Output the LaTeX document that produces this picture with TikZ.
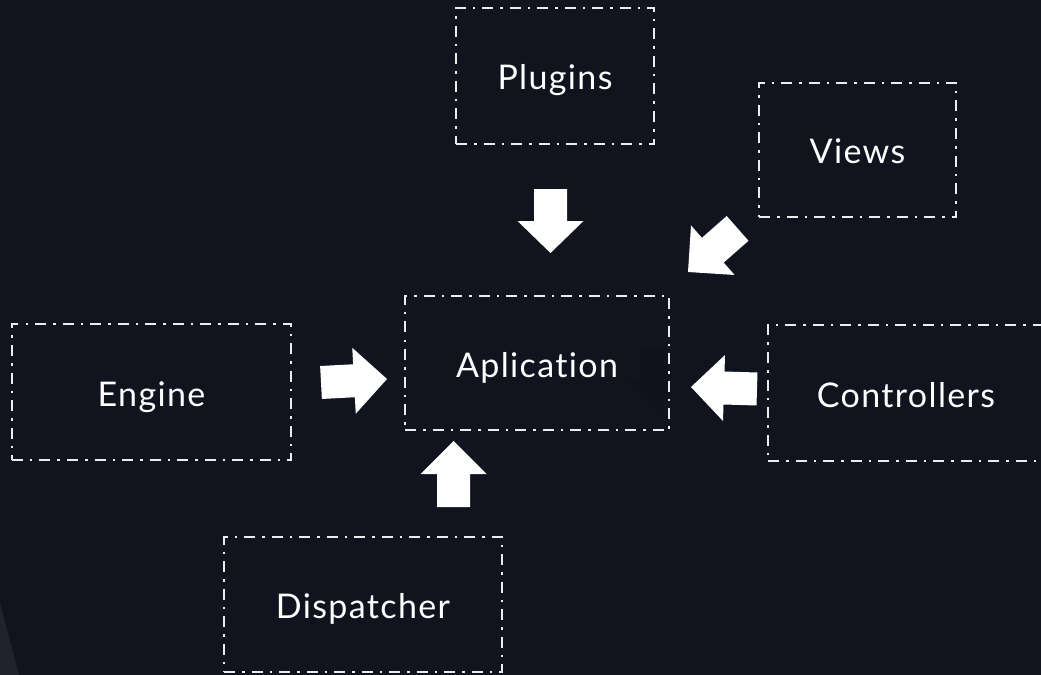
\documentclass[tikz,border=0pt]{standalone}
\usepackage{fontspec}
\setmainfont{Lato}[LetterSpace=4, Ligatures={NoCommon}]
\usetikzlibrary{calc}

\definecolor{bg}{RGB}{17,20,31}
\definecolor{bgglow}{RGB}{32,35,45}
\definecolor{bgshade}{RGB}{15,18,28}
\definecolor{edge}{RGB}{236,236,238}

% block arrow from #1 (tail) to #2 (tip); the head takes half the length
\newcommand{\blockarrow}[2]{%
  \path (#1) -- (#2) coordinate[pos=0.5] (hb);
  \fill[arrowfill] (#2)
    -- ($(hb)!33bp!90:(#2)$)
    -- ($(hb)!16.5bp!90:(#2)$)
    -- ($(#1)!16.5bp!90:(#2)$)
    -- ($(#1)!16.5bp!-90:(#2)$)
    -- ($(hb)!16.5bp!-90:(#2)$)
    -- ($(hb)!33bp!-90:(#2)$)
    -- cycle;
}

\begin{document}
\begin{tikzpicture}[x=1bp,y=-1bp,
  module/.style={draw=edge, line width=2bp,
    dash pattern=on 11bp off 7bp on 2.5bp off 7bp,
    rectangle, inner sep=0pt, text=white,
    font=\fontsize{34bp}{38bp}\selectfont,
    text height=28bp, text depth=0pt},
  arrowfill/.style={fill=white}]

\fill[bg] (0,0) rectangle (1041,675);
\useasboundingbox (0,0) rectangle (1041,675);

% soft background shapes
\fill[bgglow] (0,603) -- (19,675) -- (0,675) -- cycle;
\fill[bgshade] (641,348) -- (667,348) -- (667,398) -- (657,411)
  -- (626,379) -- (641,379) -- cycle;

\begin{scope}
\clip (0,0) rectangle (1041,675);
\node[module, minimum width=198bp, minimum height=136bp] (plugins) at (555,76) {Plugins};
\node[module, minimum width=197bp, minimum height=134bp] (views) at (857.5,150) {Views};
\node[module, minimum width=264bp, minimum height=134bp] (app) at (537,363) {Aplication};
\node[module, minimum width=279bp, minimum height=136bp] (engine) at (151.5,392) {Engine};
\node[module, minimum width=276bp, minimum height=136bp] (controllers) at (906,393) {Controllers};
\node[module, minimum width=278bp, minimum height=135bp] (dispatcher) at (363,604.5) {Dispatcher};
\end{scope}

% arrow ends in the gaps between the modules
\coordinate (pluginsTail) at (550.5,189);
\coordinate (pluginsTip) at (550.5,253);
\coordinate (viewsTail) at (737.6,228.4);
\coordinate (viewsTip) at (688,272);
\coordinate (engineTail) at (321,382.5);
\coordinate (engineTip) at (387,379);
\coordinate (controllersTail) at (757,389);
\coordinate (controllersTip) at (691,387);
\coordinate (dispatcherTail) at (453.5,507);
\coordinate (dispatcherTip) at (453.5,441);

\blockarrow{pluginsTail}{pluginsTip}
\blockarrow{viewsTail}{viewsTip}
\blockarrow{engineTail}{engineTip}
\blockarrow{controllersTail}{controllersTip}
\blockarrow{dispatcherTail}{dispatcherTip}
\end{tikzpicture}
\end{document}
